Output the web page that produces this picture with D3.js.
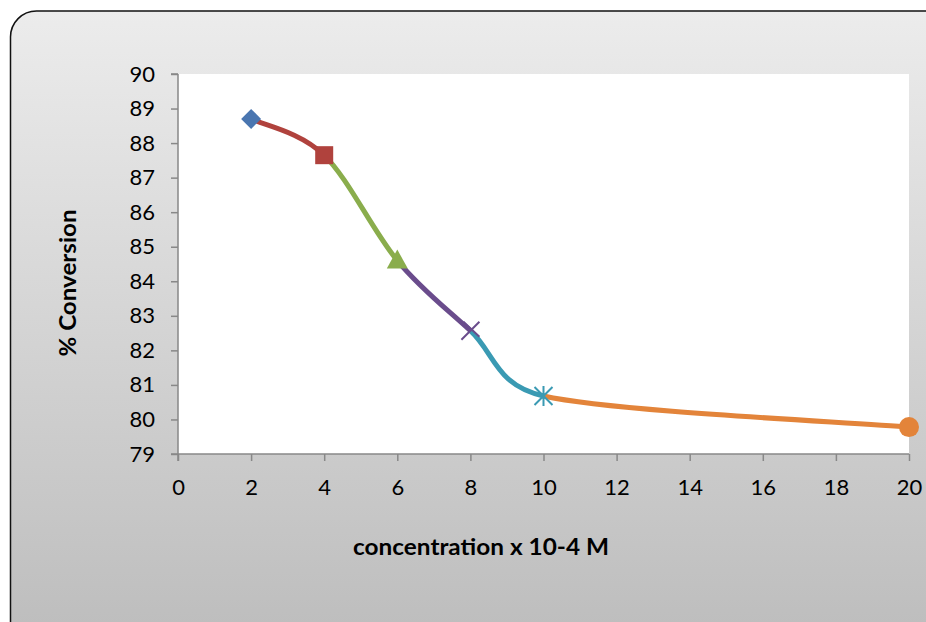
<!DOCTYPE html>
<html>
<head>
<meta charset="utf-8">
<script src="https://cdn.jsdelivr.net/npm/d3@7/dist/d3.min.js"></script>
<style>
  html, body { margin: 0; padding: 0; background: #ffffff; }
  svg { display: block; }
</style>
</head>
<body>
<script>
// Conversion against concentration
const concentrations = [2, 4, 6, 8, 10, 20];
const conversion = [88.7, 87.65, 84.6, 82.57, 80.68, 79.78];
const markerShapes = ["diamond", "square", "triangle", "cross", "asterisk", "circle"];
const seriesColors = ["#4a76b0", "#b0423d", "#8aad4c", "#6a4c8c", "#3a9ab3", "#e3843a"];
const xTicks = [0, 2, 4, 6, 8, 10, 12, 14, 16, 18, 20];
const yTicks = [79, 80, 81, 82, 83, 84, 85, 86, 87, 88, 89, 90];

const W = 926, H = 622;
const plot = { left: 178, right: 909, top: 74, bottom: 454 };

const svg = d3.select("body").append("svg").attr("width", W).attr("height", H);
const defs = svg.append("defs");

const grad = defs.append("linearGradient").attr("id", "bg").attr("x1", 0).attr("y1", 0).attr("x2", 0).attr("y2", 1);
grad.append("stop").attr("offset", "0%").attr("stop-color", "#ececec");
grad.append("stop").attr("offset", "100%").attr("stop-color", "#bcbcbc");

// chart frame
svg.append("rect")
  .attr("x", 10.5).attr("y", 11).attr("width", 940).attr("height", 640)
  .attr("rx", 26).attr("ry", 26)
  .attr("fill", "url(#bg)").attr("stroke", "#111").attr("stroke-width", 1.5);

// plot area
svg.append("rect")
  .attr("x", plot.left).attr("y", plot.top)
  .attr("width", plot.right - plot.left).attr("height", plot.bottom - plot.top)
  .attr("fill", "#ffffff");

const x = d3.scaleLinear().domain([0, 20]).range([plot.left, plot.right]);
const y = d3.scaleLinear().domain([79, 90]).range([plot.bottom, plot.top]);

const tickFont = "Lato, 'Open Sans', sans-serif";

// y axis
const yAxis = svg.append("g").attr("transform", `translate(${plot.left},0)`)
  .call(d3.axisLeft(y).tickValues(yTicks).tickSize(7).tickPadding(16).tickFormat(d3.format("d")));
yAxis.select(".domain").attr("stroke", "#888").attr("stroke-width", 1.5).attr("d", `M0,${plot.top}H-7M0,${plot.top}V${plot.bottom + 7}`);
yAxis.selectAll(".tick line").attr("stroke", "#888").attr("stroke-width", 1.5);
yAxis.selectAll(".tick text").attr("font-family", tickFont).attr("font-size", 22).attr("fill", "#000");

// x axis
const xAxis = svg.append("g").attr("transform", `translate(0,${plot.bottom})`)
  .call(d3.axisBottom(x).tickValues(xTicks).tickSize(7).tickPadding(18).tickFormat(d3.format("d")));
xAxis.select(".domain").attr("stroke", "#888").attr("stroke-width", 1.5).attr("d", `M${plot.left - 7},0H${plot.right}`);
xAxis.selectAll(".tick line").attr("stroke", "#888").attr("stroke-width", 1.5);
xAxis.selectAll(".tick text").attr("font-family", tickFont).attr("font-size", 22).attr("fill", "#000");

// axis titles
svg.append("text")
  .attr("x", 481).attr("y", 555)
  .attr("text-anchor", "middle")
  .attr("font-family", tickFont).attr("font-weight", "bold").attr("font-size", 22)
  .attr("textLength", 256).attr("lengthAdjust", "spacingAndGlyphs")
  .text("concentration x 10-4 M");

svg.append("text")
  .attr("transform", "translate(76,283) rotate(-90)")
  .attr("text-anchor", "middle")
  .attr("font-family", tickFont).attr("font-weight", "bold").attr("font-size", 22)
  .attr("textLength", 147).attr("lengthAdjust", "spacingAndGlyphs")
  .text("% Conversion");

// smoothed line: cubic Bezier segments with 1/6 tangents, each arm capped at
// half of its segment's length; each segment takes the colour of its end point
const P = concentrations.map((c, i) => [x(c), y(conversion[i])]);
const n = P.length;
const dist = (a, b) => Math.hypot(b[0] - a[0], b[1] - a[1]);

function arm(prev, next, segLen) {
  const dx = next[0] - prev[0], dy = next[1] - prev[1];
  const len = Math.hypot(dx, dy);
  let f = 1 / 6;
  if (len * f > segLen / 2) f = (segLen / 2) / len;
  return [dx * f, dy * f];
}

for (let i = 0; i < n - 1; i++) {
  const p0 = P[Math.max(i - 1, 0)], p1 = P[i], p2 = P[i + 1], p3 = P[Math.min(i + 2, n - 1)];
  const seg = dist(p1, p2);
  const a1 = arm(p0, p2, seg), a2 = arm(p1, p3, seg);
  const path = d3.path();
  path.moveTo(p1[0], p1[1]);
  path.bezierCurveTo(p1[0] + a1[0], p1[1] + a1[1], p2[0] - a2[0], p2[1] - a2[1], p2[0], p2[1]);
  svg.append("path")
    .attr("d", path.toString())
    .attr("fill", "none")
    .attr("stroke", seriesColors[i + 1])
    .attr("stroke-width", 5)
    .attr("stroke-linecap", "butt");
}

// markers
const mk = svg.append("g");
P.forEach((p, i) => {
  const col = seriesColors[i];
  const g = mk.append("g").attr("transform", `translate(${p[0]},${p[1]})`);
  switch (markerShapes[i]) {
    case "diamond":
      g.append("path").attr("d", "M0,-10L10,0L0,10L-10,0Z").attr("fill", col);
      break;
    case "square":
      g.append("rect").attr("x", -9).attr("y", -9).attr("width", 18).attr("height", 18).attr("fill", col);
      break;
    case "triangle":
      g.append("path").attr("d", "M0,-11L10.5,8L-10.5,8Z").attr("fill", col);
      break;
    case "cross":
      g.append("path").attr("d", "M-9,9L9,-9M-7,-9L9,6").attr("stroke", col).attr("stroke-width", 2).attr("fill", "none");
      break;
    case "asterisk":
      g.append("path").attr("d", "M-9,-9L9,9M-9,9L9,-9M0,-10V10").attr("stroke", col).attr("stroke-width", 2).attr("fill", "none");
      break;
    case "circle":
      g.append("circle").attr("r", 10).attr("fill", col);
      break;
  }
});
</script>
</body>
</html>
